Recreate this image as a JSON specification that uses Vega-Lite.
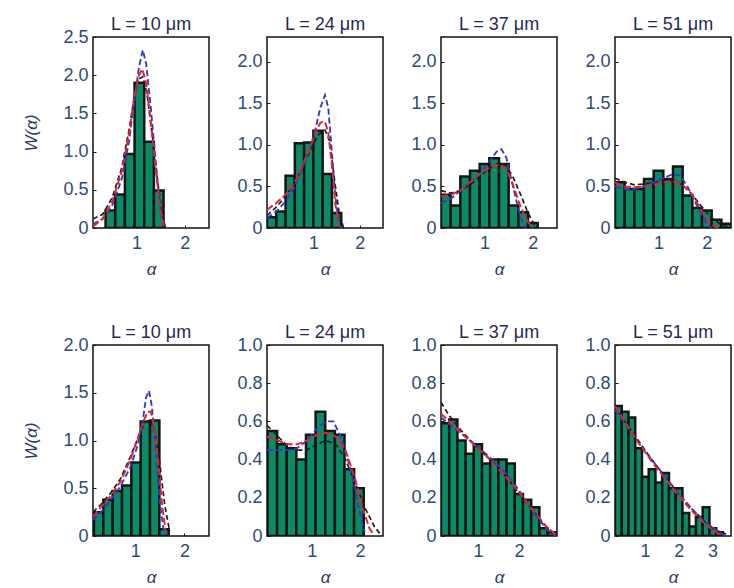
{
  "$schema": "https://vega.github.io/schema/vega-lite/v6.json",
  "padding": {"left": 22, "top": 15, "right": 0, "bottom": 0},
  "background": "white",
  "datasets": {
    "bars": [
      {"p":"T1","a0":0.36,"a1":0.56,"w":0.23},{"p":"T1","a0":0.56,"a1":0.76,"w":0.44},{"p":"T1","a0":0.76,"a1":0.96,"w":0.97},{"p":"T1","a0":0.96,"a1":1.16,"w":1.9},{"p":"T1","a0":1.16,"a1":1.36,"w":1.13},{"p":"T1","a0":1.36,"a1":1.56,"w":0.49},
      {"p":"T2","a0":0.0,"a1":0.2,"w":0.13},{"p":"T2","a0":0.2,"a1":0.4,"w":0.2},{"p":"T2","a0":0.4,"a1":0.6,"w":0.63},{"p":"T2","a0":0.6,"a1":0.8,"w":1.02},{"p":"T2","a0":0.8,"a1":1.0,"w":1.03},{"p":"T2","a0":1.0,"a1":1.2,"w":1.17},{"p":"T2","a0":1.2,"a1":1.4,"w":0.65},{"p":"T2","a0":1.4,"a1":1.6,"w":0.18},
      {"p":"T3","a0":0.1,"a1":0.3,"w":0.4},{"p":"T3","a0":0.3,"a1":0.5,"w":0.27},{"p":"T3","a0":0.5,"a1":0.7,"w":0.62},{"p":"T3","a0":0.7,"a1":0.9,"w":0.69},{"p":"T3","a0":0.9,"a1":1.1,"w":0.77},{"p":"T3","a0":1.1,"a1":1.3,"w":0.84},{"p":"T3","a0":1.3,"a1":1.5,"w":0.77},{"p":"T3","a0":1.5,"a1":1.7,"w":0.27},{"p":"T3","a0":1.7,"a1":1.9,"w":0.19},{"p":"T3","a0":1.9,"a1":2.1,"w":0.06},
      {"p":"T4","a0":0.1,"a1":0.3,"w":0.55},{"p":"T4","a0":0.3,"a1":0.5,"w":0.47},{"p":"T4","a0":0.5,"a1":0.7,"w":0.47},{"p":"T4","a0":0.7,"a1":0.9,"w":0.59},{"p":"T4","a0":0.9,"a1":1.1,"w":0.69},{"p":"T4","a0":1.1,"a1":1.3,"w":0.59},{"p":"T4","a0":1.3,"a1":1.5,"w":0.74},{"p":"T4","a0":1.5,"a1":1.7,"w":0.39},{"p":"T4","a0":1.7,"a1":1.9,"w":0.24},{"p":"T4","a0":1.9,"a1":2.1,"w":0.21},{"p":"T4","a0":2.1,"a1":2.3,"w":0.1},{"p":"T4","a0":2.3,"a1":2.5,"w":0.05},
      {"p":"B1","a0":0.16,"a1":0.35,"w":0.25},{"p":"B1","a0":0.35,"a1":0.54,"w":0.38},{"p":"B1","a0":0.54,"a1":0.73,"w":0.47},{"p":"B1","a0":0.73,"a1":0.92,"w":0.53},{"p":"B1","a0":0.92,"a1":1.11,"w":0.77},{"p":"B1","a0":1.11,"a1":1.3,"w":1.2},{"p":"B1","a0":1.3,"a1":1.49,"w":1.21},{"p":"B1","a0":1.49,"a1":1.68,"w":0.07},
      {"p":"B2","a0":0.08,"a1":0.28,"w":0.55},{"p":"B2","a0":0.28,"a1":0.48,"w":0.48},{"p":"B2","a0":0.48,"a1":0.68,"w":0.46},{"p":"B2","a0":0.68,"a1":0.88,"w":0.4},{"p":"B2","a0":0.88,"a1":1.08,"w":0.53},{"p":"B2","a0":1.08,"a1":1.28,"w":0.65},{"p":"B2","a0":1.28,"a1":1.48,"w":0.55},{"p":"B2","a0":1.48,"a1":1.68,"w":0.53},{"p":"B2","a0":1.68,"a1":1.88,"w":0.35},{"p":"B2","a0":1.88,"a1":2.08,"w":0.25},
      {"p":"B3","a0":0.1,"a1":0.3,"w":0.59},{"p":"B3","a0":0.3,"a1":0.5,"w":0.61},{"p":"B3","a0":0.5,"a1":0.7,"w":0.5},{"p":"B3","a0":0.7,"a1":0.9,"w":0.43},{"p":"B3","a0":0.9,"a1":1.1,"w":0.48},{"p":"B3","a0":1.1,"a1":1.3,"w":0.38},{"p":"B3","a0":1.3,"a1":1.5,"w":0.4},{"p":"B3","a0":1.5,"a1":1.7,"w":0.4},{"p":"B3","a0":1.7,"a1":1.9,"w":0.38},{"p":"B3","a0":1.9,"a1":2.1,"w":0.22},{"p":"B3","a0":2.1,"a1":2.3,"w":0.19},{"p":"B3","a0":2.3,"a1":2.5,"w":0.15},{"p":"B3","a0":2.5,"a1":2.7,"w":0.04},{"p":"B3","a0":2.7,"a1":2.9,"w":0.02},
      {"p":"B4","a0":0.11,"a1":0.31,"w":0.68},{"p":"B4","a0":0.31,"a1":0.51,"w":0.65},{"p":"B4","a0":0.51,"a1":0.71,"w":0.62},{"p":"B4","a0":0.71,"a1":0.91,"w":0.46},{"p":"B4","a0":0.91,"a1":1.11,"w":0.31},{"p":"B4","a0":1.11,"a1":1.31,"w":0.35},{"p":"B4","a0":1.31,"a1":1.51,"w":0.28},{"p":"B4","a0":1.51,"a1":1.71,"w":0.33},{"p":"B4","a0":1.71,"a1":1.91,"w":0.25},{"p":"B4","a0":1.91,"a1":2.11,"w":0.25},{"p":"B4","a0":2.11,"a1":2.31,"w":0.12},{"p":"B4","a0":2.31,"a1":2.51,"w":0.05},{"p":"B4","a0":2.51,"a1":2.71,"w":0.1},{"p":"B4","a0":2.71,"a1":2.91,"w":0.15},{"p":"B4","a0":2.91,"a1":3.11,"w":0.04},{"p":"B4","a0":3.11,"a1":3.31,"w":0.02}
    ],
    "curves": [
      {"p":"T1","f":"black","a":0.1,"w":0.12},{"p":"T1","f":"black","a":0.3,"w":0.18},{"p":"T1","f":"black","a":0.5,"w":0.4},{"p":"T1","f":"black","a":0.7,"w":0.8},{"p":"T1","f":"black","a":0.85,"w":1.3},{"p":"T1","f":"black","a":0.95,"w":1.7},{"p":"T1","f":"black","a":1.05,"w":1.95},{"p":"T1","f":"black","a":1.13,"w":1.98},{"p":"T1","f":"black","a":1.22,"w":1.75},{"p":"T1","f":"black","a":1.32,"w":1.25},{"p":"T1","f":"black","a":1.42,"w":0.7},{"p":"T1","f":"black","a":1.52,"w":0.22},{"p":"T1","f":"black","a":1.6,"w":0.0},
      {"p":"T1","f":"blue","a":0.1,"w":0.05},{"p":"T1","f":"blue","a":0.3,"w":0.12},{"p":"T1","f":"blue","a":0.5,"w":0.3},{"p":"T1","f":"blue","a":0.7,"w":0.65},{"p":"T1","f":"blue","a":0.85,"w":1.15},{"p":"T1","f":"blue","a":0.95,"w":1.65},{"p":"T1","f":"blue","a":1.05,"w":2.1},{"p":"T1","f":"blue","a":1.13,"w":2.33},{"p":"T1","f":"blue","a":1.2,"w":2.15},{"p":"T1","f":"blue","a":1.3,"w":1.55},{"p":"T1","f":"blue","a":1.4,"w":0.85},{"p":"T1","f":"blue","a":1.48,"w":0.3},{"p":"T1","f":"blue","a":1.55,"w":0.02},
      {"p":"T1","f":"red","a":0.1,"w":0.02},{"p":"T1","f":"red","a":0.3,"w":0.12},{"p":"T1","f":"red","a":0.5,"w":0.35},{"p":"T1","f":"red","a":0.7,"w":0.75},{"p":"T1","f":"red","a":0.85,"w":1.25},{"p":"T1","f":"red","a":0.95,"w":1.7},{"p":"T1","f":"red","a":1.05,"w":2.0},{"p":"T1","f":"red","a":1.12,"w":2.08},{"p":"T1","f":"red","a":1.2,"w":1.9},{"p":"T1","f":"red","a":1.3,"w":1.35},{"p":"T1","f":"red","a":1.4,"w":0.75},{"p":"T1","f":"red","a":1.5,"w":0.22},{"p":"T1","f":"red","a":1.57,"w":0.0},

      {"p":"T2","f":"black","a":0.0,"w":0.15},{"p":"T2","f":"black","a":0.2,"w":0.25},{"p":"T2","f":"black","a":0.4,"w":0.38},{"p":"T2","f":"black","a":0.6,"w":0.55},{"p":"T2","f":"black","a":0.8,"w":0.78},{"p":"T2","f":"black","a":0.95,"w":0.95},{"p":"T2","f":"black","a":1.1,"w":1.12},{"p":"T2","f":"black","a":1.25,"w":1.18},{"p":"T2","f":"black","a":1.35,"w":1.05},{"p":"T2","f":"black","a":1.45,"w":0.6},{"p":"T2","f":"black","a":1.55,"w":0.2},{"p":"T2","f":"black","a":1.65,"w":0.0},
      {"p":"T2","f":"blue","a":0.0,"w":0.12},{"p":"T2","f":"blue","a":0.2,"w":0.2},{"p":"T2","f":"blue","a":0.4,"w":0.32},{"p":"T2","f":"blue","a":0.6,"w":0.5},{"p":"T2","f":"blue","a":0.8,"w":0.78},{"p":"T2","f":"blue","a":0.95,"w":1.0},{"p":"T2","f":"blue","a":1.05,"w":1.2},{"p":"T2","f":"blue","a":1.15,"w":1.45},{"p":"T2","f":"blue","a":1.25,"w":1.6},{"p":"T2","f":"blue","a":1.32,"w":1.45},{"p":"T2","f":"blue","a":1.4,"w":0.9},{"p":"T2","f":"blue","a":1.47,"w":0.4},{"p":"T2","f":"blue","a":1.55,"w":0.05},{"p":"T2","f":"blue","a":1.6,"w":0.0},
      {"p":"T2","f":"red","a":0.0,"w":0.22},{"p":"T2","f":"red","a":0.2,"w":0.3},{"p":"T2","f":"red","a":0.4,"w":0.4},{"p":"T2","f":"red","a":0.6,"w":0.55},{"p":"T2","f":"red","a":0.8,"w":0.8},{"p":"T2","f":"red","a":0.95,"w":1.0},{"p":"T2","f":"red","a":1.05,"w":1.15},{"p":"T2","f":"red","a":1.15,"w":1.27},{"p":"T2","f":"red","a":1.25,"w":1.28},{"p":"T2","f":"red","a":1.32,"w":1.15},{"p":"T2","f":"red","a":1.4,"w":0.75},{"p":"T2","f":"red","a":1.47,"w":0.3},{"p":"T2","f":"red","a":1.55,"w":0.02},

      {"p":"T3","f":"black","a":0.1,"w":0.45},{"p":"T3","f":"black","a":0.3,"w":0.42},{"p":"T3","f":"black","a":0.5,"w":0.45},{"p":"T3","f":"black","a":0.7,"w":0.52},{"p":"T3","f":"black","a":0.9,"w":0.62},{"p":"T3","f":"black","a":1.1,"w":0.72},{"p":"T3","f":"black","a":1.3,"w":0.78},{"p":"T3","f":"black","a":1.45,"w":0.75},{"p":"T3","f":"black","a":1.6,"w":0.6},{"p":"T3","f":"black","a":1.75,"w":0.4},{"p":"T3","f":"black","a":1.9,"w":0.18},{"p":"T3","f":"black","a":2.05,"w":0.02},
      {"p":"T3","f":"blue","a":0.1,"w":0.3},{"p":"T3","f":"blue","a":0.3,"w":0.35},{"p":"T3","f":"blue","a":0.5,"w":0.45},{"p":"T3","f":"blue","a":0.7,"w":0.55},{"p":"T3","f":"blue","a":0.9,"w":0.65},{"p":"T3","f":"blue","a":1.1,"w":0.8},{"p":"T3","f":"blue","a":1.25,"w":0.92},{"p":"T3","f":"blue","a":1.35,"w":0.95},{"p":"T3","f":"blue","a":1.45,"w":0.85},{"p":"T3","f":"blue","a":1.55,"w":0.6},{"p":"T3","f":"blue","a":1.65,"w":0.35},{"p":"T3","f":"blue","a":1.75,"w":0.12},{"p":"T3","f":"blue","a":1.85,"w":0.0},
      {"p":"T3","f":"red","a":0.1,"w":0.38},{"p":"T3","f":"red","a":0.3,"w":0.4},{"p":"T3","f":"red","a":0.5,"w":0.45},{"p":"T3","f":"red","a":0.7,"w":0.55},{"p":"T3","f":"red","a":0.9,"w":0.65},{"p":"T3","f":"red","a":1.1,"w":0.73},{"p":"T3","f":"red","a":1.3,"w":0.76},{"p":"T3","f":"red","a":1.45,"w":0.72},{"p":"T3","f":"red","a":1.6,"w":0.5},{"p":"T3","f":"red","a":1.75,"w":0.25},{"p":"T3","f":"red","a":1.9,"w":0.07},{"p":"T3","f":"red","a":2.0,"w":0.0},

      {"p":"T4","f":"black","a":0.1,"w":0.6},{"p":"T4","f":"black","a":0.3,"w":0.55},{"p":"T4","f":"black","a":0.5,"w":0.52},{"p":"T4","f":"black","a":0.7,"w":0.53},{"p":"T4","f":"black","a":0.9,"w":0.55},{"p":"T4","f":"black","a":1.1,"w":0.57},{"p":"T4","f":"black","a":1.3,"w":0.57},{"p":"T4","f":"black","a":1.5,"w":0.52},{"p":"T4","f":"black","a":1.7,"w":0.4},{"p":"T4","f":"black","a":1.9,"w":0.25},{"p":"T4","f":"black","a":2.1,"w":0.12},{"p":"T4","f":"black","a":2.3,"w":0.04},{"p":"T4","f":"black","a":2.5,"w":0.0},
      {"p":"T4","f":"blue","a":0.1,"w":0.5},{"p":"T4","f":"blue","a":0.3,"w":0.47},{"p":"T4","f":"blue","a":0.5,"w":0.47},{"p":"T4","f":"blue","a":0.7,"w":0.5},{"p":"T4","f":"blue","a":0.9,"w":0.55},{"p":"T4","f":"blue","a":1.1,"w":0.6},{"p":"T4","f":"blue","a":1.3,"w":0.65},{"p":"T4","f":"blue","a":1.45,"w":0.63},{"p":"T4","f":"blue","a":1.6,"w":0.5},{"p":"T4","f":"blue","a":1.75,"w":0.32},{"p":"T4","f":"blue","a":1.9,"w":0.15},{"p":"T4","f":"blue","a":2.0,"w":0.05},{"p":"T4","f":"blue","a":2.1,"w":0.0},
      {"p":"T4","f":"red","a":0.1,"w":0.55},{"p":"T4","f":"red","a":0.3,"w":0.5},{"p":"T4","f":"red","a":0.5,"w":0.49},{"p":"T4","f":"red","a":0.7,"w":0.5},{"p":"T4","f":"red","a":0.9,"w":0.52},{"p":"T4","f":"red","a":1.1,"w":0.55},{"p":"T4","f":"red","a":1.3,"w":0.56},{"p":"T4","f":"red","a":1.5,"w":0.52},{"p":"T4","f":"red","a":1.7,"w":0.4},{"p":"T4","f":"red","a":1.85,"w":0.25},{"p":"T4","f":"red","a":2.0,"w":0.1},{"p":"T4","f":"red","a":2.15,"w":0.02},{"p":"T4","f":"red","a":2.3,"w":0.0},

      {"p":"B1","f":"black","a":0.14,"w":0.25},{"p":"B1","f":"black","a":0.3,"w":0.33},{"p":"B1","f":"black","a":0.5,"w":0.45},{"p":"B1","f":"black","a":0.7,"w":0.6},{"p":"B1","f":"black","a":0.9,"w":0.83},{"p":"B1","f":"black","a":1.05,"w":1.02},{"p":"B1","f":"black","a":1.18,"w":1.18},{"p":"B1","f":"black","a":1.3,"w":1.22},{"p":"B1","f":"black","a":1.4,"w":1.1},{"p":"B1","f":"black","a":1.5,"w":0.75},{"p":"B1","f":"black","a":1.6,"w":0.32},{"p":"B1","f":"black","a":1.7,"w":0.05},
      {"p":"B1","f":"blue","a":0.14,"w":0.17},{"p":"B1","f":"blue","a":0.3,"w":0.25},{"p":"B1","f":"blue","a":0.5,"w":0.38},{"p":"B1","f":"blue","a":0.7,"w":0.52},{"p":"B1","f":"blue","a":0.9,"w":0.72},{"p":"B1","f":"blue","a":1.05,"w":0.95},{"p":"B1","f":"blue","a":1.15,"w":1.2},{"p":"B1","f":"blue","a":1.22,"w":1.45},{"p":"B1","f":"blue","a":1.28,"w":1.52},{"p":"B1","f":"blue","a":1.34,"w":1.35},{"p":"B1","f":"blue","a":1.42,"w":0.85},{"p":"B1","f":"blue","a":1.5,"w":0.35},{"p":"B1","f":"blue","a":1.58,"w":0.05},
      {"p":"B1","f":"red","a":0.14,"w":0.2},{"p":"B1","f":"red","a":0.3,"w":0.3},{"p":"B1","f":"red","a":0.5,"w":0.42},{"p":"B1","f":"red","a":0.7,"w":0.57},{"p":"B1","f":"red","a":0.9,"w":0.8},{"p":"B1","f":"red","a":1.05,"w":1.02},{"p":"B1","f":"red","a":1.15,"w":1.18},{"p":"B1","f":"red","a":1.25,"w":1.3},{"p":"B1","f":"red","a":1.32,"w":1.3},{"p":"B1","f":"red","a":1.4,"w":1.1},{"p":"B1","f":"red","a":1.48,"w":0.7},{"p":"B1","f":"red","a":1.55,"w":0.3},{"p":"B1","f":"red","a":1.62,"w":0.05},

      {"p":"B2","f":"black","a":0.07,"w":0.58},{"p":"B2","f":"black","a":0.3,"w":0.52},{"p":"B2","f":"black","a":0.5,"w":0.47},{"p":"B2","f":"black","a":0.7,"w":0.45},{"p":"B2","f":"black","a":0.9,"w":0.45},{"p":"B2","f":"black","a":1.1,"w":0.48},{"p":"B2","f":"black","a":1.3,"w":0.5},{"p":"B2","f":"black","a":1.5,"w":0.48},{"p":"B2","f":"black","a":1.7,"w":0.4},{"p":"B2","f":"black","a":1.9,"w":0.28},{"p":"B2","f":"black","a":2.1,"w":0.15},{"p":"B2","f":"black","a":2.3,"w":0.05},{"p":"B2","f":"black","a":2.45,"w":0.0},
      {"p":"B2","f":"blue","a":0.07,"w":0.45},{"p":"B2","f":"blue","a":0.3,"w":0.45},{"p":"B2","f":"blue","a":0.5,"w":0.45},{"p":"B2","f":"blue","a":0.7,"w":0.46},{"p":"B2","f":"blue","a":0.9,"w":0.5},{"p":"B2","f":"blue","a":1.1,"w":0.56},{"p":"B2","f":"blue","a":1.3,"w":0.6},{"p":"B2","f":"blue","a":1.45,"w":0.6},{"p":"B2","f":"blue","a":1.6,"w":0.52},{"p":"B2","f":"blue","a":1.75,"w":0.4},{"p":"B2","f":"blue","a":1.9,"w":0.25},{"p":"B2","f":"blue","a":2.0,"w":0.12},{"p":"B2","f":"blue","a":2.1,"w":0.02},
      {"p":"B2","f":"red","a":0.07,"w":0.52},{"p":"B2","f":"red","a":0.3,"w":0.5},{"p":"B2","f":"red","a":0.5,"w":0.48},{"p":"B2","f":"red","a":0.7,"w":0.48},{"p":"B2","f":"red","a":0.9,"w":0.5},{"p":"B2","f":"red","a":1.1,"w":0.53},{"p":"B2","f":"red","a":1.3,"w":0.54},{"p":"B2","f":"red","a":1.5,"w":0.52},{"p":"B2","f":"red","a":1.7,"w":0.45},{"p":"B2","f":"red","a":1.9,"w":0.3},{"p":"B2","f":"red","a":2.05,"w":0.15},{"p":"B2","f":"red","a":2.2,"w":0.04},{"p":"B2","f":"red","a":2.3,"w":0.0},

      {"p":"B3","f":"black","a":0.1,"w":0.7},{"p":"B3","f":"black","a":0.3,"w":0.63},{"p":"B3","f":"black","a":0.6,"w":0.55},{"p":"B3","f":"black","a":1.0,"w":0.46},{"p":"B3","f":"black","a":1.4,"w":0.38},{"p":"B3","f":"black","a":1.8,"w":0.28},{"p":"B3","f":"black","a":2.2,"w":0.17},{"p":"B3","f":"black","a":2.5,"w":0.09},{"p":"B3","f":"black","a":2.8,"w":0.02},{"p":"B3","f":"black","a":2.9,"w":0.0},
      {"p":"B3","f":"blue","a":0.1,"w":0.62},{"p":"B3","f":"blue","a":0.4,"w":0.57},{"p":"B3","f":"blue","a":0.8,"w":0.5},{"p":"B3","f":"blue","a":1.2,"w":0.43},{"p":"B3","f":"blue","a":1.6,"w":0.35},{"p":"B3","f":"blue","a":2.0,"w":0.24},{"p":"B3","f":"blue","a":2.4,"w":0.11},{"p":"B3","f":"blue","a":2.7,"w":0.03},{"p":"B3","f":"blue","a":2.9,"w":0.0},
      {"p":"B3","f":"red","a":0.1,"w":0.64},{"p":"B3","f":"red","a":0.4,"w":0.58},{"p":"B3","f":"red","a":0.8,"w":0.5},{"p":"B3","f":"red","a":1.2,"w":0.42},{"p":"B3","f":"red","a":1.6,"w":0.33},{"p":"B3","f":"red","a":2.0,"w":0.23},{"p":"B3","f":"red","a":2.4,"w":0.12},{"p":"B3","f":"red","a":2.7,"w":0.04},{"p":"B3","f":"red","a":2.9,"w":0.01},

      {"p":"B4","f":"black","a":0.11,"w":0.68},{"p":"B4","f":"black","a":0.4,"w":0.6},{"p":"B4","f":"black","a":0.8,"w":0.5},{"p":"B4","f":"black","a":1.2,"w":0.4},{"p":"B4","f":"black","a":1.6,"w":0.31},{"p":"B4","f":"black","a":2.0,"w":0.22},{"p":"B4","f":"black","a":2.4,"w":0.14},{"p":"B4","f":"black","a":2.8,"w":0.07},{"p":"B4","f":"black","a":3.1,"w":0.03},{"p":"B4","f":"black","a":3.4,"w":0.01},
      {"p":"B4","f":"blue","a":0.11,"w":0.66},{"p":"B4","f":"blue","a":0.4,"w":0.59},{"p":"B4","f":"blue","a":0.8,"w":0.49},{"p":"B4","f":"blue","a":1.2,"w":0.4},{"p":"B4","f":"blue","a":1.6,"w":0.31},{"p":"B4","f":"blue","a":2.0,"w":0.22},{"p":"B4","f":"blue","a":2.4,"w":0.14},{"p":"B4","f":"blue","a":2.8,"w":0.07},{"p":"B4","f":"blue","a":3.2,"w":0.02},{"p":"B4","f":"blue","a":3.4,"w":0.0},
      {"p":"B4","f":"red","a":0.11,"w":0.68},{"p":"B4","f":"red","a":0.4,"w":0.6},{"p":"B4","f":"red","a":0.8,"w":0.49},{"p":"B4","f":"red","a":1.2,"w":0.39},{"p":"B4","f":"red","a":1.6,"w":0.3},{"p":"B4","f":"red","a":2.0,"w":0.21},{"p":"B4","f":"red","a":2.4,"w":0.13},{"p":"B4","f":"red","a":2.8,"w":0.06},{"p":"B4","f":"red","a":3.2,"w":0.01}
    ]
  },
  "columns": 4,
  "bounds": "flush",
  "spacing": {"row": 117, "column": 58},
  "resolve": {"scale": {"x": "independent", "y": "independent"}},
  "concat": [
    {"title": {"text": "L = 10 μm", "offset": -6}, "width": 116, "height": 191, "layer": [
      {"data": {"name": "bars"}, "transform": [{"filter": "datum.p == 'T1'"}], "mark": {"type": "bar", "fill": "#0b8a66", "stroke": "#141414", "strokeWidth": 2.5, "clip": true},
       "encoding": {"x": {"field": "a0", "type": "quantitative", "scale": {"domain": [0.1, 2.5], "nice": false, "zero": false}, "axis": {"values": [1, 2], "format": "d", "title": "α", "labelOverlap": false, "tickCount": 20}}, "x2": {"field": "a1"},
         "y": {"field": "w", "type": "quantitative", "scale": {"domain": [0, 2.5], "nice": false}, "axis": {"values": [0, 0.5, 1, 1.5, 2, 2.5], "tickCount": 20, "title": "W(α)", "labelOverlap": false, "labelExpr": "datum.value === 0 ? '0' : format(datum.value, '.1f')"}}, "y2": {"datum": 0}}},
      {"data": {"name": "curves"}, "transform": [{"filter": "datum.p == 'T1'"}], "mark": {"type": "line", "clip": true},
       "encoding": {"x": {"field": "a", "type": "quantitative"}, "y": {"field": "w", "type": "quantitative"},
         "color": {"field": "f", "type": "nominal", "scale": {"domain": ["black", "blue", "red"], "range": ["#1e1e1e", "#3636c8", "#e3232b"]}, "legend": null},
         "strokeDash": {"field": "f", "type": "nominal", "scale": {"domain": ["black", "blue", "red"], "range": [[5, 3], [6, 3], [7, 3]]}, "legend": null},
         "strokeWidth": {"field": "f", "type": "nominal", "scale": {"domain": ["black", "blue", "red"], "range": [1.7, 2, 2.7]}, "legend": null}}}
    ]},
    {"title": {"text": "L = 24 μm", "offset": 3}, "width": 116, "height": 191, "layer": [
      {"data": {"name": "bars"}, "transform": [{"filter": "datum.p == 'T2'"}], "mark": {"type": "bar", "fill": "#0b8a66", "stroke": "#141414", "strokeWidth": 2.5, "clip": true},
       "encoding": {"x": {"field": "a0", "type": "quantitative", "scale": {"domain": [0, 2.5], "nice": false, "zero": false}, "axis": {"values": [1, 2], "format": "d", "title": "α", "labelOverlap": false, "tickCount": 20}}, "x2": {"field": "a1"},
         "y": {"field": "w", "type": "quantitative", "scale": {"domain": [0, 2.3], "nice": false}, "axis": {"values": [0, 0.5, 1, 1.5, 2], "tickCount": 20, "title": null, "labelOverlap": false, "labelExpr": "datum.value === 0 ? '0' : format(datum.value, '.1f')"}}, "y2": {"datum": 0}}},
      {"data": {"name": "curves"}, "transform": [{"filter": "datum.p == 'T2'"}], "mark": {"type": "line", "clip": true},
       "encoding": {"x": {"field": "a", "type": "quantitative"}, "y": {"field": "w", "type": "quantitative"},
         "color": {"field": "f", "type": "nominal", "scale": {"domain": ["black", "blue", "red"], "range": ["#1e1e1e", "#3636c8", "#e3232b"]}, "legend": null},
         "strokeDash": {"field": "f", "type": "nominal", "scale": {"domain": ["black", "blue", "red"], "range": [[5, 3], [6, 3], [7, 3]]}, "legend": null},
         "strokeWidth": {"field": "f", "type": "nominal", "scale": {"domain": ["black", "blue", "red"], "range": [1.7, 2, 2.7]}, "legend": null}}}
    ]},
    {"title": {"text": "L = 37 μm", "offset": 3}, "width": 116, "height": 191, "layer": [
      {"data": {"name": "bars"}, "transform": [{"filter": "datum.p == 'T3'"}], "mark": {"type": "bar", "fill": "#0b8a66", "stroke": "#141414", "strokeWidth": 2.5, "clip": true},
       "encoding": {"x": {"field": "a0", "type": "quantitative", "scale": {"domain": [0.1, 2.5], "nice": false, "zero": false}, "axis": {"values": [1, 2], "format": "d", "title": "α", "labelOverlap": false, "tickCount": 20}}, "x2": {"field": "a1"},
         "y": {"field": "w", "type": "quantitative", "scale": {"domain": [0, 2.3], "nice": false}, "axis": {"values": [0, 0.5, 1, 1.5, 2], "tickCount": 20, "title": null, "labelOverlap": false, "labelExpr": "datum.value === 0 ? '0' : format(datum.value, '.1f')"}}, "y2": {"datum": 0}}},
      {"data": {"name": "curves"}, "transform": [{"filter": "datum.p == 'T3'"}], "mark": {"type": "line", "clip": true},
       "encoding": {"x": {"field": "a", "type": "quantitative"}, "y": {"field": "w", "type": "quantitative"},
         "color": {"field": "f", "type": "nominal", "scale": {"domain": ["black", "blue", "red"], "range": ["#1e1e1e", "#3636c8", "#e3232b"]}, "legend": null},
         "strokeDash": {"field": "f", "type": "nominal", "scale": {"domain": ["black", "blue", "red"], "range": [[5, 3], [6, 3], [7, 3]]}, "legend": null},
         "strokeWidth": {"field": "f", "type": "nominal", "scale": {"domain": ["black", "blue", "red"], "range": [1.7, 2, 2.7]}, "legend": null}}}
    ]},
    {"title": {"text": "L = 51 μm", "offset": 3}, "width": 116, "height": 191, "layer": [
      {"data": {"name": "bars"}, "transform": [{"filter": "datum.p == 'T4'"}], "mark": {"type": "bar", "fill": "#0b8a66", "stroke": "#141414", "strokeWidth": 2.5, "clip": true},
       "encoding": {"x": {"field": "a0", "type": "quantitative", "scale": {"domain": [0.1, 2.5], "nice": false, "zero": false}, "axis": {"values": [1, 2], "format": "d", "title": "α", "labelOverlap": false, "tickCount": 20}}, "x2": {"field": "a1"},
         "y": {"field": "w", "type": "quantitative", "scale": {"domain": [0, 2.3], "nice": false}, "axis": {"values": [0, 0.5, 1, 1.5, 2], "tickCount": 20, "title": null, "labelOverlap": false, "labelExpr": "datum.value === 0 ? '0' : format(datum.value, '.1f')"}}, "y2": {"datum": 0}}},
      {"data": {"name": "curves"}, "transform": [{"filter": "datum.p == 'T4'"}], "mark": {"type": "line", "clip": true},
       "encoding": {"x": {"field": "a", "type": "quantitative"}, "y": {"field": "w", "type": "quantitative"},
         "color": {"field": "f", "type": "nominal", "scale": {"domain": ["black", "blue", "red"], "range": ["#1e1e1e", "#3636c8", "#e3232b"]}, "legend": null},
         "strokeDash": {"field": "f", "type": "nominal", "scale": {"domain": ["black", "blue", "red"], "range": [[5, 3], [6, 3], [7, 3]]}, "legend": null},
         "strokeWidth": {"field": "f", "type": "nominal", "scale": {"domain": ["black", "blue", "red"], "range": [1.7, 2, 2.7]}, "legend": null}}}
    ]},
    {"title": {"text": "L = 10 μm", "offset": -6}, "width": 116, "height": 191, "layer": [
      {"data": {"name": "bars"}, "transform": [{"filter": "datum.p == 'B1'"}], "mark": {"type": "bar", "fill": "#0b8a66", "stroke": "#141414", "strokeWidth": 2.5, "clip": true},
       "encoding": {"x": {"field": "a0", "type": "quantitative", "scale": {"domain": [0.14, 2.5], "nice": false, "zero": false}, "axis": {"values": [1, 2], "format": "d", "title": "α", "labelOverlap": false, "tickCount": 20}}, "x2": {"field": "a1"},
         "y": {"field": "w", "type": "quantitative", "scale": {"domain": [0, 2], "nice": false}, "axis": {"values": [0, 0.5, 1, 1.5, 2], "tickCount": 20, "title": "W(α)", "labelOverlap": false, "labelExpr": "datum.value === 0 ? '0' : format(datum.value, '.1f')"}}, "y2": {"datum": 0}}},
      {"data": {"name": "curves"}, "transform": [{"filter": "datum.p == 'B1'"}], "mark": {"type": "line", "clip": true},
       "encoding": {"x": {"field": "a", "type": "quantitative"}, "y": {"field": "w", "type": "quantitative"},
         "color": {"field": "f", "type": "nominal", "scale": {"domain": ["black", "blue", "red"], "range": ["#1e1e1e", "#3636c8", "#e3232b"]}, "legend": null},
         "strokeDash": {"field": "f", "type": "nominal", "scale": {"domain": ["black", "blue", "red"], "range": [[5, 3], [6, 3], [7, 3]]}, "legend": null},
         "strokeWidth": {"field": "f", "type": "nominal", "scale": {"domain": ["black", "blue", "red"], "range": [1.7, 2, 2.7]}, "legend": null}}}
    ]},
    {"title": {"text": "L = 24 μm", "offset": -6}, "width": 116, "height": 191, "layer": [
      {"data": {"name": "bars"}, "transform": [{"filter": "datum.p == 'B2'"}], "mark": {"type": "bar", "fill": "#0b8a66", "stroke": "#141414", "strokeWidth": 2.5, "clip": true},
       "encoding": {"x": {"field": "a0", "type": "quantitative", "scale": {"domain": [0.07, 2.48], "nice": false, "zero": false}, "axis": {"values": [1, 2], "format": "d", "title": "α", "labelOverlap": false, "tickCount": 20}}, "x2": {"field": "a1"},
         "y": {"field": "w", "type": "quantitative", "scale": {"domain": [0, 1], "nice": false}, "axis": {"values": [0, 0.2, 0.4, 0.6, 0.8, 1], "tickCount": 20, "title": null, "labelOverlap": false, "labelExpr": "datum.value === 0 ? '0' : format(datum.value, '.1f')"}}, "y2": {"datum": 0}}},
      {"data": {"name": "curves"}, "transform": [{"filter": "datum.p == 'B2'"}], "mark": {"type": "line", "clip": true},
       "encoding": {"x": {"field": "a", "type": "quantitative"}, "y": {"field": "w", "type": "quantitative"},
         "color": {"field": "f", "type": "nominal", "scale": {"domain": ["black", "blue", "red"], "range": ["#1e1e1e", "#3636c8", "#e3232b"]}, "legend": null},
         "strokeDash": {"field": "f", "type": "nominal", "scale": {"domain": ["black", "blue", "red"], "range": [[5, 3], [6, 3], [7, 3]]}, "legend": null},
         "strokeWidth": {"field": "f", "type": "nominal", "scale": {"domain": ["black", "blue", "red"], "range": [1.7, 2, 2.7]}, "legend": null}}}
    ]},
    {"title": {"text": "L = 37 μm", "offset": -6}, "width": 116, "height": 191, "layer": [
      {"data": {"name": "bars"}, "transform": [{"filter": "datum.p == 'B3'"}], "mark": {"type": "bar", "fill": "#0b8a66", "stroke": "#141414", "strokeWidth": 2.5, "clip": true},
       "encoding": {"x": {"field": "a0", "type": "quantitative", "scale": {"domain": [0.1, 2.93], "nice": false, "zero": false}, "axis": {"values": [1, 2], "format": "d", "title": "α", "labelOverlap": false, "tickCount": 20}}, "x2": {"field": "a1"},
         "y": {"field": "w", "type": "quantitative", "scale": {"domain": [0, 1], "nice": false}, "axis": {"values": [0, 0.2, 0.4, 0.6, 0.8, 1], "tickCount": 20, "title": null, "labelOverlap": false, "labelExpr": "datum.value === 0 ? '0' : format(datum.value, '.1f')"}}, "y2": {"datum": 0}}},
      {"data": {"name": "curves"}, "transform": [{"filter": "datum.p == 'B3'"}], "mark": {"type": "line", "clip": true},
       "encoding": {"x": {"field": "a", "type": "quantitative"}, "y": {"field": "w", "type": "quantitative"},
         "color": {"field": "f", "type": "nominal", "scale": {"domain": ["black", "blue", "red"], "range": ["#1e1e1e", "#3636c8", "#e3232b"]}, "legend": null},
         "strokeDash": {"field": "f", "type": "nominal", "scale": {"domain": ["black", "blue", "red"], "range": [[5, 3], [6, 3], [7, 3]]}, "legend": null},
         "strokeWidth": {"field": "f", "type": "nominal", "scale": {"domain": ["black", "blue", "red"], "range": [1.7, 2, 2.7]}, "legend": null}}}
    ]},
    {"title": {"text": "L = 51 μm", "offset": -6}, "width": 116, "height": 191, "layer": [
      {"data": {"name": "bars"}, "transform": [{"filter": "datum.p == 'B4'"}], "mark": {"type": "bar", "fill": "#0b8a66", "stroke": "#141414", "strokeWidth": 2.5, "clip": true},
       "encoding": {"x": {"field": "a0", "type": "quantitative", "scale": {"domain": [0.11, 3.55], "nice": false, "zero": false}, "axis": {"values": [1, 2, 3], "format": "d", "title": "α", "labelOverlap": false, "tickCount": 20}}, "x2": {"field": "a1"},
         "y": {"field": "w", "type": "quantitative", "scale": {"domain": [0, 1], "nice": false}, "axis": {"values": [0, 0.2, 0.4, 0.6, 0.8, 1], "tickCount": 20, "title": null, "labelOverlap": false, "labelExpr": "datum.value === 0 ? '0' : format(datum.value, '.1f')"}}, "y2": {"datum": 0}}},
      {"data": {"name": "curves"}, "transform": [{"filter": "datum.p == 'B4'"}], "mark": {"type": "line", "clip": true},
       "encoding": {"x": {"field": "a", "type": "quantitative"}, "y": {"field": "w", "type": "quantitative"},
         "color": {"field": "f", "type": "nominal", "scale": {"domain": ["black", "blue", "red"], "range": ["#1e1e1e", "#3636c8", "#e3232b"]}, "legend": null},
         "strokeDash": {"field": "f", "type": "nominal", "scale": {"domain": ["black", "blue", "red"], "range": [[5, 3], [6, 3], [7, 3]]}, "legend": null},
         "strokeWidth": {"field": "f", "type": "nominal", "scale": {"domain": ["black", "blue", "red"], "range": [1.7, 2, 2.7]}, "legend": null}}}
    ]}
  ],
  "config": {
    "view": {"stroke": "#111111", "strokeWidth": 1.5},
    "axis": {"domain": false, "grid": false, "ticks": true, "tickSize": -3, "tickColor": "#111111", "tickCount": 20, "labelFont": "Liberation Sans", "labelFontSize": 18, "labelColor": "#2e4a78", "titleFont": "Liberation Sans", "titleFontSize": 17, "titleFontWeight": "normal", "titleFontStyle": "italic", "titleColor": "#2e3a68", "labelFlush": false, "labelOverlap": false, "labelBound": false},
    "axisX": {"labelPadding": 9, "titlePadding": 9},
    "axisY": {"labelPadding": 8, "titlePadding": 22},
    "title": {"font": "Liberation Sans", "fontSize": 18, "fontWeight": "normal", "color": "#1f2a5a"}
  }
}
